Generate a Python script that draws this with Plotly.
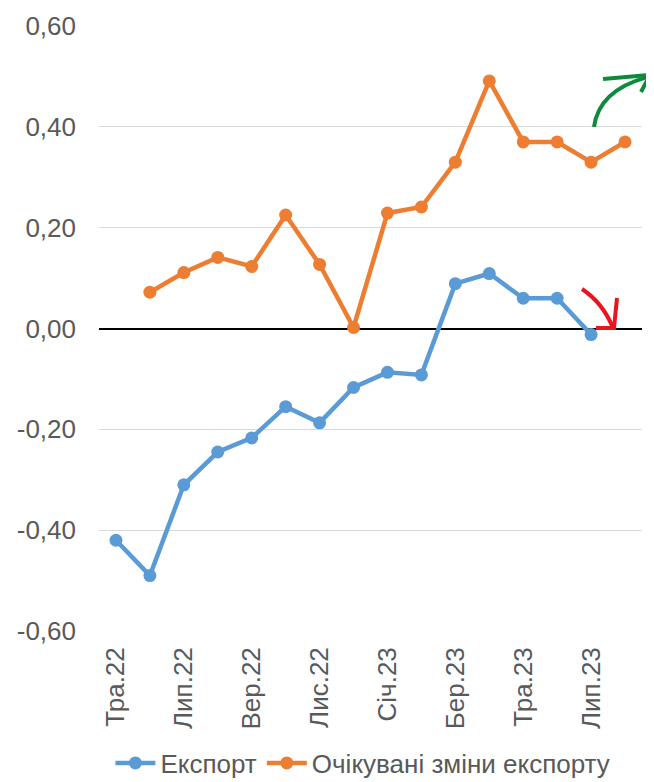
import plotly.graph_objects as go

months = ["Тра.22", "Чер.22", "Лип.22", "Сер.22", "Вер.22", "Жов.22", "Лис.22", "Гру.22",
          "Січ.23", "Лют.23", "Бер.23", "Кві.23", "Тра.23", "Чер.23", "Лип.23", "Сер.23"]
tick_labels = ["Тра.22", "Лип.22", "Вер.22", "Лис.22", "Січ.23", "Бер.23", "Тра.23", "Лип.23"]

export_vals = [-0.42, -0.49, -0.31, -0.245, -0.217, -0.155, -0.187, -0.117,
               -0.087, -0.092, 0.089, 0.109, 0.06, 0.06, -0.012, None]
expected_vals = [None, 0.072, 0.111, 0.141, 0.123, 0.225, 0.127, 0.002,
                 0.229, 0.241, 0.33, 0.491, 0.37, 0.37, 0.33, 0.37]

FONT = "Liberation Sans"
GREY = "#595959"
FS = 26

# page has an 8px body margin; work in page pixels and convert
OFF = 8
W, H = 654 - OFF, 782 - OFF
L, R, T, B = 99 - OFF, 642 - OFF, 26 - OFF, 631 - OFF

fig = go.Figure()
fig.add_trace(go.Scatter(x=months, y=export_vals, name="Експорт", mode="lines+markers",
                         line=dict(color="#5B9BD5", width=4.5),
                         marker=dict(size=13, color="#5B9BD5"), connectgaps=False))
fig.add_trace(go.Scatter(x=months, y=expected_vals, name="Очікувані зміни експорту",
                         mode="lines+markers",
                         line=dict(color="#ED7D31", width=4.5),
                         marker=dict(size=13, color="#ED7D31"), connectgaps=False))


def px(x, y):
    x -= OFF
    y -= OFF
    return (x - L) / (R - L), (B - y) / (B - T)


def path(points, cmds):
    out = []
    for c, (x, y) in zip(cmds, points):
        xp, yp = px(x, y)
        out.append(f"{c}{xp:.4f},{yp:.4f}")
    return " ".join(out)


def arrow_shapes(color, shaft, head):
    return [
        dict(type="path", xref="paper", yref="paper", layer="above",
             path=path(shaft, ["M", "Q", ""]),
             line=dict(color=color, width=4), fillcolor="rgba(0,0,0,0)"),
        dict(type="path", xref="paper", yref="paper", layer="above",
             path=path(head, ["M", "L", "L"]),
             line=dict(color=color, width=4), fillcolor="rgba(0,0,0,0)"),
    ]


shapes = []
shapes += arrow_shapes("#0E8A3C", [(594, 127), (599, 90), (648, 77)],
                       [(603, 79), (650, 75), (641, 92)])
shapes += arrow_shapes("#E8141E", [(582, 289), (603, 303), (613, 328)],
                       [(617, 298), (614, 328), (596, 328)])

legend_y = (B - (763 - OFF)) / (B - T)

fig.update_layout(
    width=W, height=H,
    margin=dict(l=L, r=W - R, t=T, b=H - B, autoexpand=False),
    plot_bgcolor="white", paper_bgcolor="white",
    font=dict(family=FONT, size=FS, color=GREY),
    showlegend=True,
    legend=dict(orientation="h", x=0.486, xanchor="center", y=legend_y, yanchor="middle",
                font=dict(family=FONT, size=FS, color=GREY), itemwidth=40,
                tracegroupgap=0),
    shapes=shapes,
)
fig.update_xaxes(type="category", range=[-0.5, len(months) - 0.5],
                 tickmode="array", tickvals=tick_labels, ticktext=tick_labels,
                 tickangle=-90, showgrid=False, ticks="", showline=False, automargin=False,
                 ticklabelstandoff=10,
                 tickfont=dict(family=FONT, size=FS, color=GREY))
fig.update_yaxes(range=[-0.6, 0.6], tickvals=[-0.6, -0.4, -0.2, 0, 0.2, 0.4, 0.6],
                 ticktext=["-0,60", "-0,40", "-0,20", "0,00", "0,20", "0,40", "0,60"],
                 showgrid=True, gridcolor="#D9D9D9", gridwidth=1.3,
                 zeroline=True, zerolinecolor="black", zerolinewidth=1.5,
                 ticks="", ticklabelstandoff=22, automargin=False,
                 tickfont=dict(family=FONT, size=FS, color=GREY))

fig.write_html("out.html")
